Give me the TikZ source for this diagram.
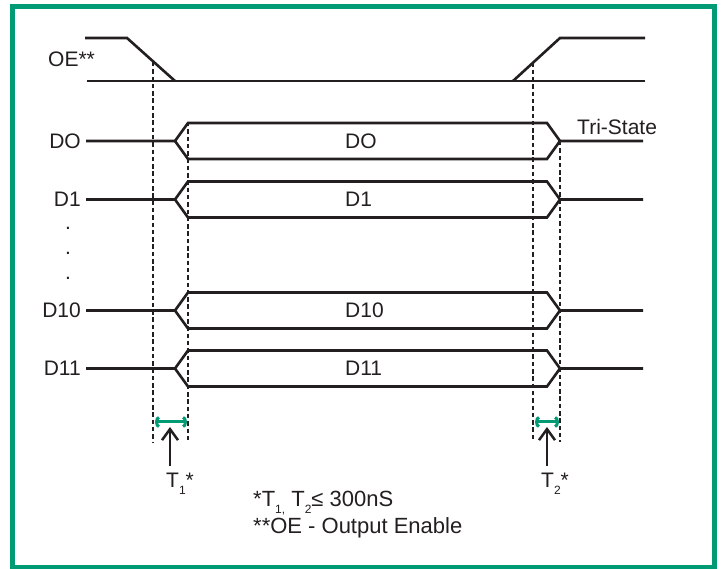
\documentclass[tikz,border=0pt]{standalone}
\usepackage{fontspec}
\setmainfont{Liberation Sans}
\usetikzlibrary{arrows.meta}
\definecolor{frameg}{RGB}{0,154,116}
\definecolor{ink}{RGB}{35,31,32}
\begin{document}
\begin{tikzpicture}[x=1pt,y=-1pt,
  sig/.style={draw=ink,line width=2.6pt},
  guide/.style={draw=ink,line width=2.5pt,dash pattern=on 4.5pt off 2.8pt},
  lbl/.style={font=\fontsize{21}{25}\selectfont,text=ink,inner sep=0pt},
  note/.style={font=\fontsize{22}{26}\selectfont,text=ink,inner sep=0pt},
  span/.style={draw=frameg,line width=3pt,{Arc Barb[length=4pt,width=12pt]}-{Arc Barb[length=4pt,width=12pt]}},
  pointer/.style={draw=ink,line width=2.5pt,-{Straight Barb[length=11pt,width=16pt]}}]
\useasboundingbox (0,0) rectangle (721,569);
\fill[white] (0,0) rectangle (721,569);
\draw[frameg,line width=5pt] (12.5,6.7) rectangle (714.5,567.5);

% OE signal
\node[lbl,anchor=base west] (oe) at (48,66.5) {OE**};
\draw[sig] (85,38) -- (127,38) -- (175,81);
\draw[sig] (87,81) -- (645,81);
\draw[sig] (513,81) -- (560,38) -- (645,38);

% data buses
\foreach \n/\c in {DO/141,D1/199.5,D10/310.5,D11/368.5} {
  \draw[sig] (86,\c) -- (175,\c) -- (188,\c-18) -- (547,\c-18) -- (560,\c) -- (643,\c);
  \draw[sig] (175,\c) -- (188,\c+18) -- (547,\c+18) -- (560,\c);
  \node[lbl,anchor=east] (lab\n) at (81,\c) {\n};
  \node[lbl,anchor=west] (bus\n) at (345,\c) {\n};
}
\node[lbl,anchor=west] (tri) at (577,127) {Tri-State};

% dots
\node[lbl,anchor=base] (dot1) at (68,229.5) {.};
\node[lbl,anchor=base] (dot2) at (68,254.5) {.};
\node[lbl,anchor=base] (dot3) at (68,279.5) {.};

% guides
\draw[guide] (153,62) -- (153,442);
\draw[guide] (188,122) -- (188,442);
\draw[guide] (533,62.5) -- (533,442);
\draw[guide] (560,141) -- (560,442);

% spans
\coordinate (s1a) at (155,422); \coordinate (s1b) at (187,422);
\coordinate (s2a) at (535,422); \coordinate (s2b) at (559,422);
\draw[span] (s1a) -- (s1b);
\draw[span] (s2a) -- (s2b);

% pointers
\node[lbl,anchor=base west] (t1) at (166,488) {T\raisebox{-0.3em}{\fontsize{12}{12}\selectfont 1}*};
\node[lbl,anchor=base west] (t2) at (541,488) {T\raisebox{-0.3em}{\fontsize{12}{12}\selectfont 2}*};
\coordinate (p1) at (170,427); \coordinate (p2) at (547,427);
\draw[pointer] (170,466) -- (p1);
\draw[pointer] (547,466) -- (p2);

% notes
\node[note,anchor=base west] (n1) at (253,507) {*T\raisebox{-0.3em}{\fontsize{12}{12}\selectfont 1,} T\raisebox{-0.3em}{\fontsize{12}{12}\selectfont 2}≤ 300nS};
\node[note,anchor=base west] (n2) at (253,533) {**OE - Output Enable};
\end{tikzpicture}
\end{document}
